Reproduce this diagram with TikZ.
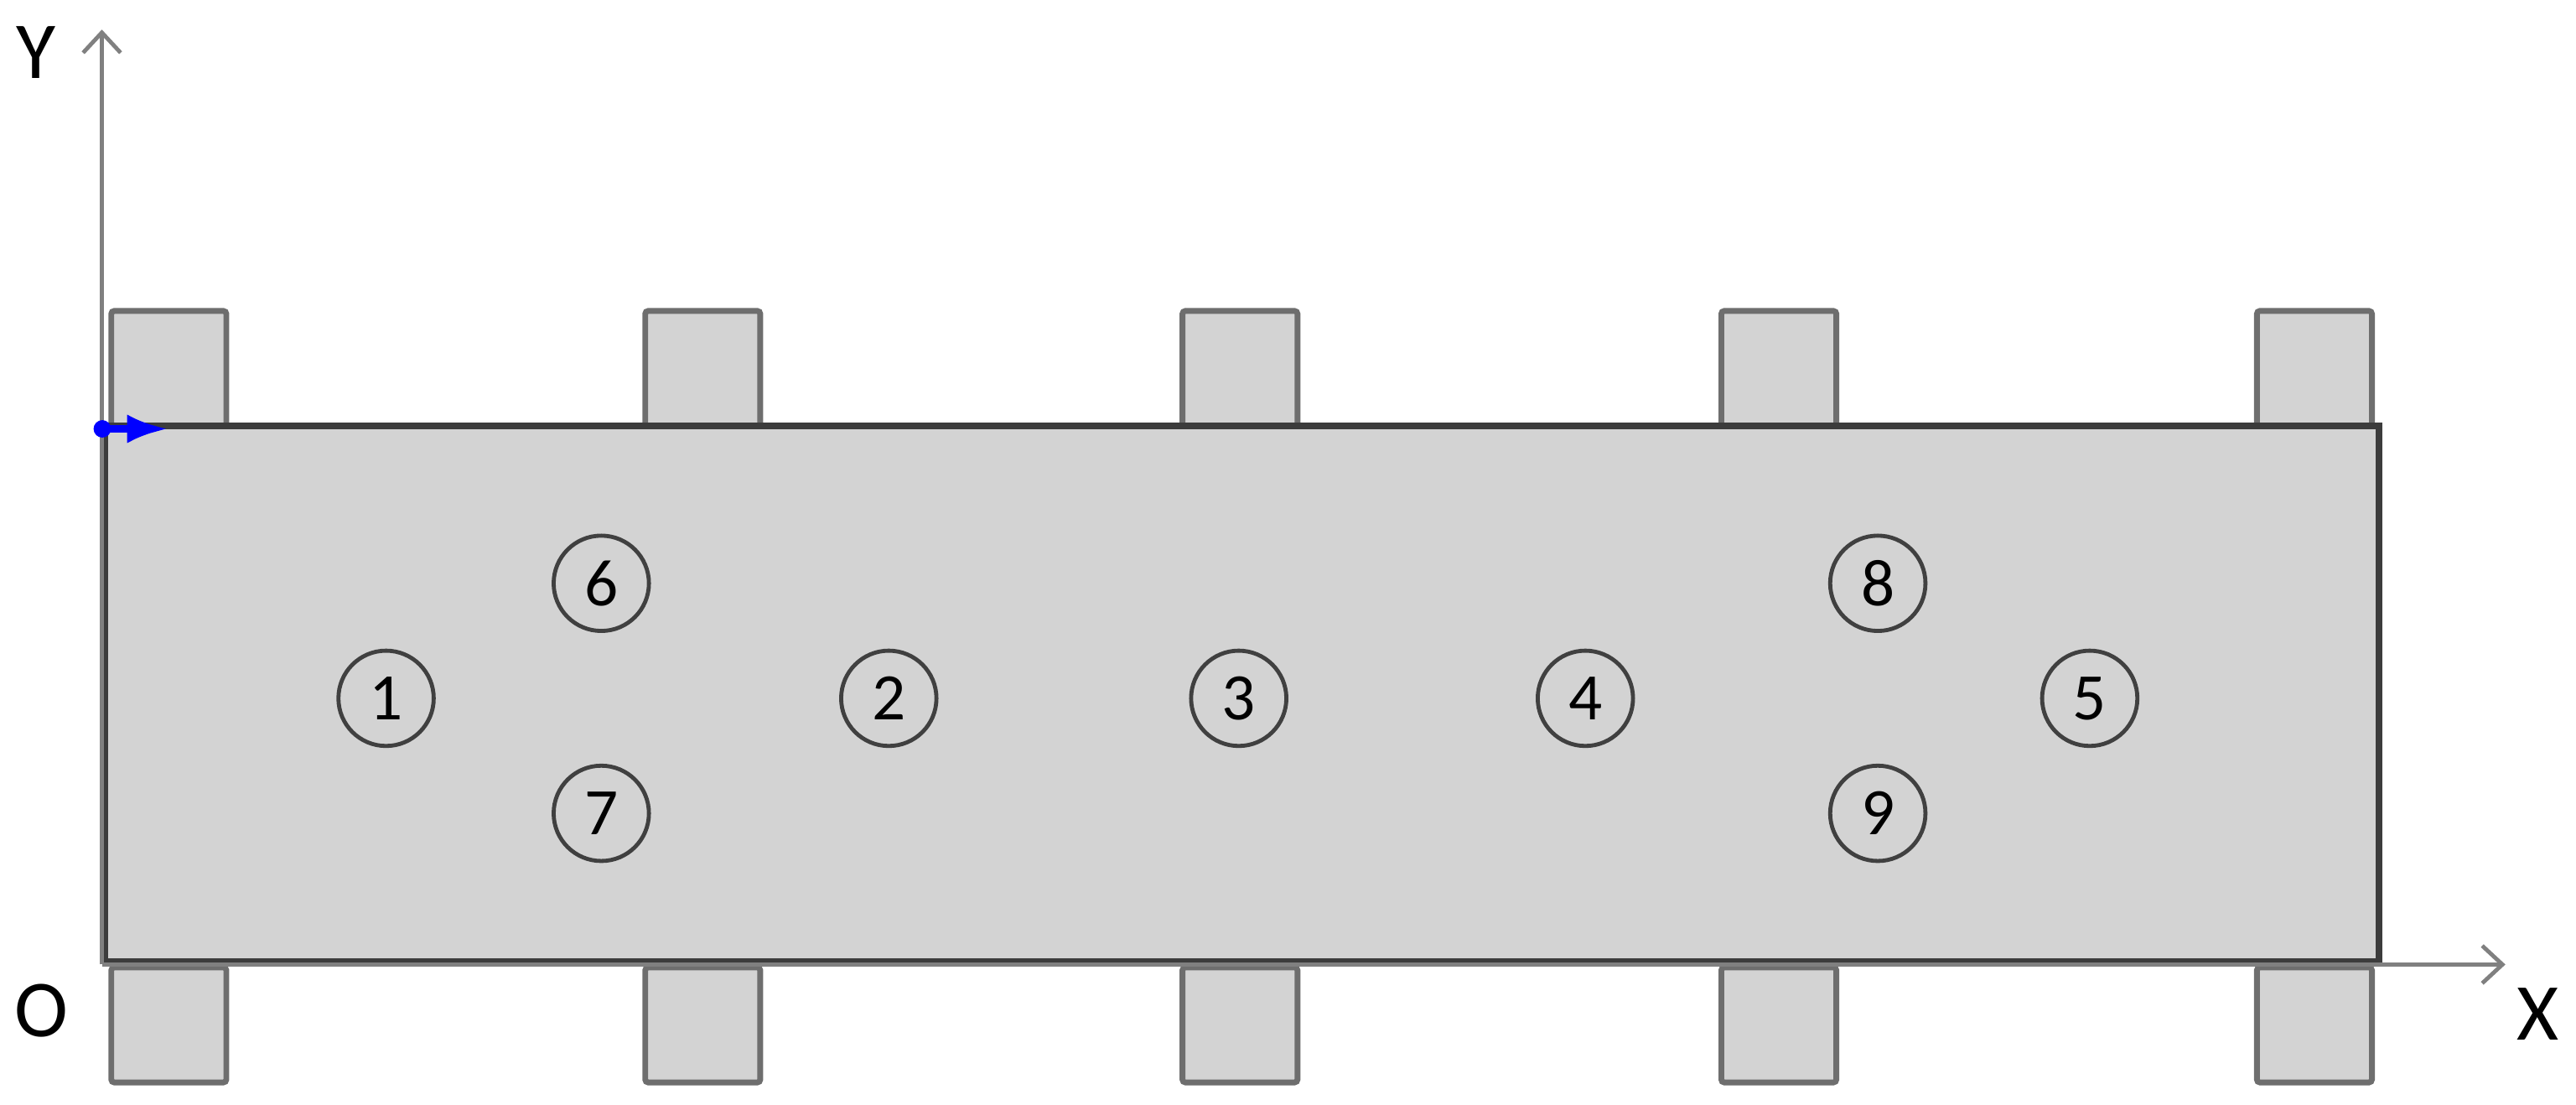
\documentclass[tikz,border=0pt]{standalone}
\usepackage{fontspec}
\setmainfont{Carlito}
\usetikzlibrary{positioning,arrows.meta}

\definecolor{platefill}{HTML}{D3D3D3}
\definecolor{edgedark}{HTML}{3C3C3C}
\definecolor{edgetab}{HTML}{6E6E6E}
\definecolor{axisgray}{HTML}{808080}

\begin{document}
\begin{tikzpicture}[%
      plate/.style={rectangle, draw=edgedark, fill=platefill, line width=1.1pt,
        minimum width=13.84cm, minimum height=3.26cm, inner sep=0pt},
      tab/.style={rectangle, draw=edgetab, fill=platefill, line width=1pt,
        minimum width=0.70cm, minimum height=0.70cm, inner sep=0pt, rounded corners=0.5pt},
      pt/.style={circle, draw=black!75, line width=0.7pt, minimum size=0.58cm,
        inner sep=0pt, font=\fontsize{11.5}{11.5}\selectfont},
      lab/.style={font=\fontsize{14}{14}\selectfont, inner sep=0pt},
      axis/.style={draw=axisgray, line width=0.7pt, -{Straight Barb[length=3.5pt,width=6.5pt]}}
    ]
    \useasboundingbox (-0.62,-0.85) rectangle (15.06,5.87);

    % tabs, top row
    \node [tab, anchor=south west] (t1) at (0.04,3.26) {};
    \node [tab, anchor=south west] (t2) at (3.29,3.26) {};
    \node [tab, anchor=south west] (t3) at (6.56,3.26) {};
    \node [tab, anchor=south west] (t4) at (9.84,3.26) {};
    \node [tab, anchor=south west] (t5) at (13.10,3.26) {};
    % tabs, bottom row
    \node [tab, anchor=north west] (b1) at (0.04,0) {};
    \node [tab, anchor=north west] (b2) at (3.29,0) {};
    \node [tab, anchor=north west] (b3) at (6.56,0) {};
    \node [tab, anchor=north west] (b4) at (9.84,0) {};
    \node [tab, anchor=north west] (b5) at (13.10,0) {};

    \node [plate, anchor=south west] (plate) at (0,0) {};

    % points
    \node [pt] (p1) at (1.73,1.62) {1};
    \node [pt] (p2) at (4.79,1.62) {2};
    \node [pt] (p3) at (6.92,1.62) {3};
    \node [pt] (p4) at (9.03,1.62) {4};
    \node [pt] (p5) at (12.10,1.62) {5};
    \node [pt] (p6) at (3.04,2.32) {6};
    \node [pt] (p7) at (3.04,0.92) {7};
    \node [pt] (p8) at (10.81,2.32) {8};
    \node [pt] (p9) at (10.81,0.92) {9};

    % axes
    \coordinate (O) at (0,0);
    \coordinate (xend) at (14.63,0);
    \coordinate (yend) at (0,5.69);
    \draw [axis] (O) -- (xend);
    \draw [axis] (O) -- (yend);
    \node [lab] (Ylab) at (-0.40,5.55) {Y};
    \node [lab] (Xlab) at (14.83,-0.30) {X};
    \node [lab] (Olab) at (-0.37,-0.28) {O};

    \coordinate (bstart) at (-0.05,3.26);
    \coordinate (bend) at (0.40,3.26);
    \draw [blue, line width=1.2pt, {Circle[length=3pt]}-{Latex[length=7pt,width=5pt]}] (bstart) -- (bend);
      \end{tikzpicture}
\end{document}
